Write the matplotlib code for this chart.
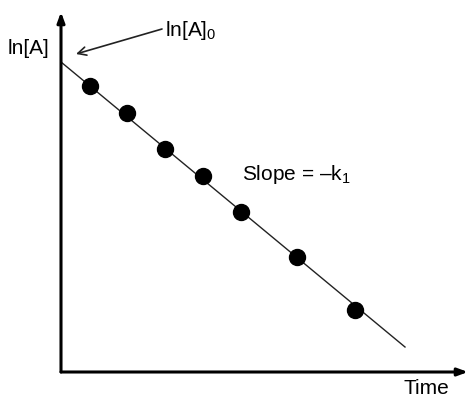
import matplotlib
matplotlib.use("Agg")
import matplotlib.pyplot as plt

plt.rcParams['font.family'] = ['Liberation Sans', 'DejaVu Sans']
plt.rcParams['mathtext.fontset'] = 'custom'
plt.rcParams['mathtext.rm'] = 'Liberation Sans'
plt.rcParams['mathtext.it'] = 'Liberation Sans'
plt.rcParams['mathtext.default'] = 'regular'

# data (arbitrary units)
time_pts = [29, 66, 104, 142, 180, 236, 294]
lnA_pts = [286, 259, 223, 196, 160, 115, 62]
fit_time = [0, 344]
fit_lnA = [310, 25]

W, H = 468, 398
fig = plt.figure(figsize=(W / 100, H / 100), dpi=100)
ax = fig.add_axes([61 / W, 26 / H, (468 - 61) / W, (372 - 12) / H])
ax.set_xlim(0, 407)
ax.set_ylim(0, 360)
ax.axis('off')

ax.plot(fit_time, fit_lnA, color='#222222', lw=1.0, zorder=2)
ax.plot(time_pts, lnA_pts, 'o', color='black', ms=11.5, zorder=3)

# axes with arrows
ax.annotate('', xy=(0, 1), xytext=(0, 0), xycoords='axes fraction',
            arrowprops=dict(arrowstyle='-|>,head_length=0.6,head_width=0.22',
                            color='black', lw=2.2, shrinkA=0, shrinkB=0))
ax.annotate('', xy=(1, 0), xytext=(0, 0), xycoords='axes fraction',
            arrowprops=dict(arrowstyle='-|>,head_length=0.6,head_width=0.22',
                            color='black', lw=2.2, shrinkA=0, shrinkB=0))

fs = 15
fig.text(8 / W, 1 - 48 / H, 'ln[A]', fontsize=fs, va='center', ha='left')
fig.text(403 / W, 1 - 389 / H, 'Time', fontsize=fs, va='center', ha='left')
fig.text(242 / W, 1 - 175 / H, 'Slope = –k$_1$', fontsize=fs, va='center', ha='left')
fig.text(165 / W, 1 - 30 / H, 'ln[A]$_0$', fontsize=fs, va='center', ha='left')

fig.add_artist(matplotlib.patches.FancyArrowPatch(
    (162 / W, 1 - 29 / H), (76 / W, 1 - 54 / H), transform=fig.transFigure,
    arrowstyle='->,head_length=6,head_width=3', color='#222222', lw=1.2,
    shrinkA=0, shrinkB=0))

fig.savefig('out.png', dpi=100)
